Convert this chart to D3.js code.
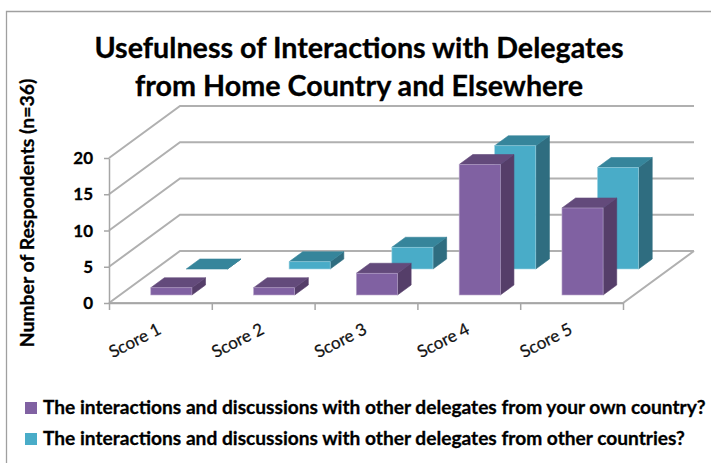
<!DOCTYPE html>
<html>

<head>
  <meta charset="utf-8">
  <title>Usefulness of Interactions</title>
  <script src="https://d3js.org/d3.v7.min.js"></script>
  <style>
    body { margin: 0; background: #fff; }
    svg { display: block; font-family: Lato, "Open Sans", sans-serif; }
    .grid { stroke: #b0b0b0; stroke-width: 2px; fill: none; }
    .axis path, .axis line { stroke: #a6a6a6; stroke-width: 1.5px; }
    .heavy { stroke: #000; stroke-width: 0.3px; }
  </style>
</head>

<body>
  <svg id="chart" width="711" height="463"></svg>

  <script>
    const categories = ["Score 1", "Score 2", "Score 3", "Score 4", "Score 5"];
    const ownCountry = [1, 1, 3, 18, 12];
    const otherCountries = [0, 1, 3, 17, 14];
    const yTicks = [0, 5, 10, 15, 20];
    const titleLines = ["Usefulness of Interactions with Delegates", "from Home Country and Elsewhere"];
    const yLabel = "Number of Respondents (n=36)";
    const legendLabels = [
      "The interactions and discussions with other delegates from your own country?",
      "The interactions and discussions with other delegates from other countries?"
    ];

    const svg = d3.select("#chart");

    // frame of the chart, cut off on the right and at the bottom
    svg.append("path")
      .attr("d", "M6.5,463V11.5H711")
      .attr("fill", "none")
      .attr("stroke", "#a0a0a0")
      .attr("stroke-width", 1.3);

    const x = d3.scaleBand().domain(categories).range([109, 623]).paddingInner(0.6).paddingOuter(0.3);
    const xEdges = d3.scaleLinear().domain([0, categories.length]).range([109, 623]);
    const y = d3.scaleLinear().domain([0, 20]).range([303, 158]);

    // depth goes 0 (front) to 1 (back wall), drawn up and to the right
    const depthX = d3.scaleLinear().domain([0, 1]).range([0, 71]);
    const depthY = d3.scaleLinear().domain([0, 1]).range([0, -52]);
    const slots = [{ d0: 0.154, d1: 0.346 }, { d0: 0.654, d1: 0.846 }];

    // side wall and back wall gridlines
    yTicks.forEach(t => {
      svg.append("path").attr("class", "grid")
        .attr("d", d3.line()([
          [xEdges(0), y(t)],
          [xEdges(0) + depthX(1), y(t) + depthY(1)],
          [xEdges(5) + depthX(1), y(t) + depthY(1)]
        ]));
    });

    // floor
    svg.append("path").attr("class", "grid")
      .attr("d", d3.line()([
        [xEdges(0), y(0)],
        [xEdges(5), y(0)],
        [xEdges(5) + depthX(1), y(0) + depthY(1)]
      ]));

    svg.append("g").attr("class", "axis")
      .attr("transform", "translate(109,0)")
      .call(d3.axisLeft(y).tickValues(yTicks).tickSize(5).tickSizeOuter(0).tickFormat(""));

    svg.append("g").attr("class", "axis")
      .attr("transform", "translate(0,303)")
      .call(d3.axisBottom(xEdges).tickValues(d3.range(categories.length + 1)).tickSize(7).tickSizeOuter(0).tickFormat(""));

    svg.selectAll(".yLab").data(yTicks)
      .join("text")
      .attr("class", "yLab heavy")
      .attr("x", 93)
      .attr("y", d => y(d) + 6)
      .attr("text-anchor", "end")
      .attr("font-size", 17)
      .attr("font-weight", 700)
      .text(d => d);

    svg.selectAll(".xLab").data(categories)
      .join("text")
      .attr("class", "xLab")
      .attr("text-anchor", "end")
      .attr("font-size", 17)
      .attr("fill", "#111")
      .attr("stroke", "#111")
      .attr("stroke-width", 0.25)
      .attr("transform", d => "translate(" + (x(d) + x.bandwidth() / 2 + 2) + ",333) rotate(-27)")
      .text(d => d);

    // one 3D bar: front, top and right side
    function drawBar(x0, x1, value, slot, colors) {
      const front = y(0) + depthY(slot.d0);
      const base = x0 + depthX(slot.d0);
      const right = x1 + depthX(slot.d0);
      const top = front - (y(0) - y(value));
      const dx = depthX(slot.d1) - depthX(slot.d0);
      const dy = depthY(slot.d1) - depthY(slot.d0);
      const g = svg.append("g").attr("stroke-width", 0.6);

      g.append("path").attr("fill", colors.side).attr("stroke", colors.side)
        .attr("d", d3.line()([[right, top], [right + dx, top + dy], [right + dx, front + dy], [right, front]]) + "Z");
      g.append("path").attr("fill", colors.top).attr("stroke", colors.top)
        .attr("d", d3.line()([[base, top], [base + dx, top + dy], [right + dx, top + dy], [right, top]]) + "Z");
      if (value > 0) {
        g.append("rect").attr("fill", colors.front).attr("stroke", colors.edge)
          .attr("x", base).attr("y", top).attr("width", right - base).attr("height", front - top);
      }
    }

    const purple = { front: "#8061a2", top: "#634a7b", side: "#553e69", edge: "#b9a7cc" };
    const teal = { front: "#49acc8", top: "#36859b", side: "#2f6d80", edge: "#9fd3e2" };

    categories.forEach((c, i) => {
      drawBar(x(c), x(c) + x.bandwidth(), otherCountries[i], slots[1], teal);
    });
    categories.forEach((c, i) => {
      drawBar(x(c), x(c) + x.bandwidth(), ownCountry[i], slots[0], purple);
    });

    svg.selectAll(".title").data(titleLines)
      .join("text")
      .attr("class", "title heavy")
      .attr("x", 359)
      .attr("y", (d, i) => 58 + i * 38)
      .attr("text-anchor", "middle")
      .attr("font-size", 28.7)
      .attr("font-weight", 700)
      .text(d => d);

    svg.append("text")
      .attr("class", "heavy")
      .attr("transform", "translate(34,213) rotate(-90)")
      .attr("text-anchor", "middle")
      .attr("font-size", 19.4)
      .attr("font-weight", 700)
      .text(yLabel);

    const legend = svg.selectAll(".legend").data(legendLabels)
      .join("g")
      .attr("class", "legend")
      .attr("transform", (d, i) => "translate(25," + (408 + i * 31) + ")");

    legend.append("rect")
      .attr("y", -6)
      .attr("width", 12)
      .attr("height", 12)
      .attr("fill", (d, i) => i === 0 ? purple.front : teal.front);

    legend.append("text")
      .attr("class", "heavy")
      .attr("x", 18)
      .attr("y", 6)
      .attr("font-size", 19.15)
      .attr("font-weight", 700)
      .text(d => d);
  </script>
</body>

</html>
